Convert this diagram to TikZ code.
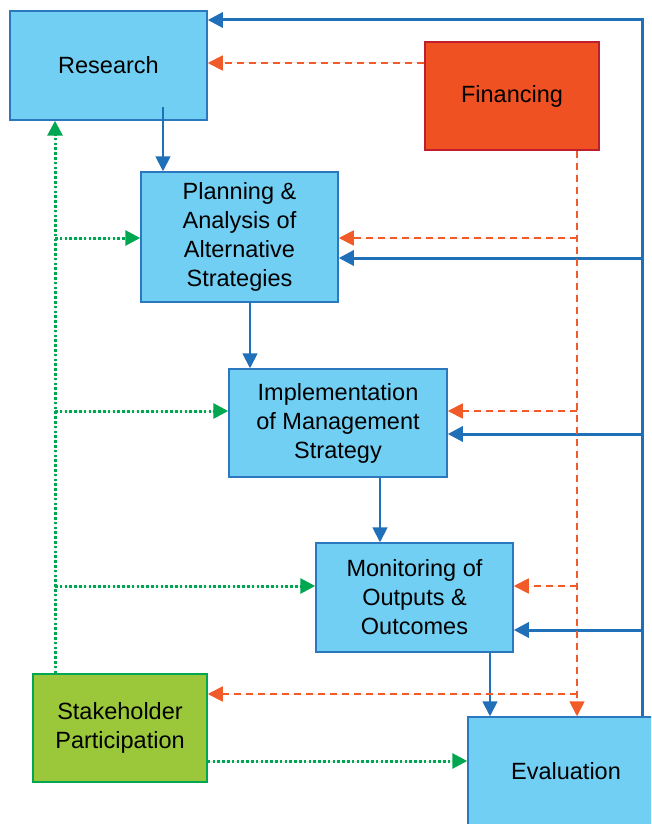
\documentclass[tikz,border=0pt]{standalone}
\usepackage{fontspec}
\setmainfont{Liberation Sans}
\usetikzlibrary{arrows.meta,calc}
\definecolor{boxblue}{HTML}{72CFF4}
\definecolor{edgeblue}{HTML}{2B78BE}
\definecolor{lineblue}{HTML}{1F70B8}
\definecolor{finfill}{HTML}{F05123}
\definecolor{finedge}{HTML}{BE1E2D}
\definecolor{stfill}{HTML}{9BC83B}
\definecolor{stedge}{HTML}{00A650}
\definecolor{reddash}{HTML}{F15A29}
\definecolor{greendot}{HTML}{00A650}
\tikzset{
  bluebox/.style={draw=edgeblue, fill=boxblue, line width=1.5pt, align=center, inner sep=0pt,
    font=\fontsize{23.5}{29}\selectfont},
  finbox/.style={bluebox, draw=finedge, fill=finfill},
  stbox/.style={bluebox, draw=stedge, fill=stfill},
  tip/.style={-{Triangle[length=15pt,width=15pt]}},
  downarr/.style={tip, draw=lineblue, fill=lineblue, line width=1.8pt},
  fbline/.style={draw=lineblue, line width=3pt},
  fbarr/.style={fbline, tip},
  rdash/.style={draw=reddash, line width=1.8pt, dash pattern=on 7pt off 5pt},
  rdarr/.style={rdash, tip, fill=reddash},
  gdot/.style={draw=greendot, line width=3pt, dash pattern=on 2.6pt off 2.2pt},
  gdarr/.style={gdot, tip, fill=greendot}
}
\begin{document}
\begin{tikzpicture}[x=1pt,y=-1pt]
\useasboundingbox (0,0) rectangle (651,824);
\clip (0,0) rectangle (651,824);

\node[bluebox, minimum width=197pt, minimum height=109pt] (research) at (108.5,65.5) {Research};
\node[finbox, minimum width=174pt, minimum height=108pt] (financing) at (512,96) {Financing};
\node[bluebox, minimum width=197pt, minimum height=130pt] (planning) at (239.5,237) {Planning \&\\Analysis of\\Alternative\\Strategies};
\node[bluebox, minimum width=218pt, minimum height=108pt] (impl) at (338,423) {Implementation\\of Management\\Strategy};
\node[bluebox, minimum width=197pt, minimum height=109pt] (monitor) at (414.5,597.5) {Monitoring of\\Outputs \&\\Outcomes};
\node[stbox, minimum width=174pt, minimum height=108pt] (stake) at (120,728) {Stakeholder\\Participation};
\node[bluebox, minimum width=196pt, minimum height=108pt] (eval) at (566,771) {Evaluation};

% reference coordinates
\coordinate (xb) at (642,0);
\coordinate (xr) at (577,0);
\coordinate (xg) at (55,0);
\coordinate (yT) at (0,20);
\coordinate (yF) at (0,63);
\coordinate (yP) at (0,238);
\coordinate (yPb) at (0,258);
\coordinate (yI) at (0,411);
\coordinate (yIb) at (0,434);
\coordinate (yM) at (0,586);
\coordinate (yMb) at (0,630);
\coordinate (yS) at (0,694);
\coordinate (yE) at (0,761);
\coordinate (r1) at (163,107);

% main downward flow
\draw[downarr] (r1) -- (r1 |- planning.north);
\draw[downarr] (planning.south -| 250,0) -- (impl.north -| 250,0);
\draw[downarr] (impl.south -| 380,0) -- (monitor.north -| 380,0);
\draw[downarr] (monitor.south -| 490,0) -- (eval.north -| 490,0);

% blue feedback
\draw[fbarr] (eval.north -| xb) -- (xb |- yT) -- (research.east |- yT);
\draw[fbarr] (xb |- yPb) -- (planning.east |- yPb);
\draw[fbarr] (xb |- yIb) -- (impl.east |- yIb);
\draw[fbarr] (xb |- yMb) -- (monitor.east |- yMb);

% red financing
\draw[rdarr] (financing.west |- yF) -- (research.east |- yF);
\draw[rdarr] (financing.south -| xr) -- (eval.north -| xr);
\draw[rdarr] (xr |- yP) -- (planning.east |- yP);
\draw[rdarr] (xr |- yI) -- (impl.east |- yI);
\draw[rdarr] (xr |- yM) -- (monitor.east |- yM);
\draw[rdarr] (xr |- yS) -- (stake.east |- yS);

% green stakeholder
\draw[gdarr] (stake.north -| xg) -- (research.south -| xg);
\draw[gdarr] (xg |- yP) -- (planning.west |- yP);
\draw[gdarr] (xg |- yI) -- (impl.west |- yI);
\draw[gdarr] (xg |- yM) -- (monitor.west |- yM);
\draw[gdarr] (stake.east |- yE) -- (eval.west |- yE);
\end{tikzpicture}
\end{document}
